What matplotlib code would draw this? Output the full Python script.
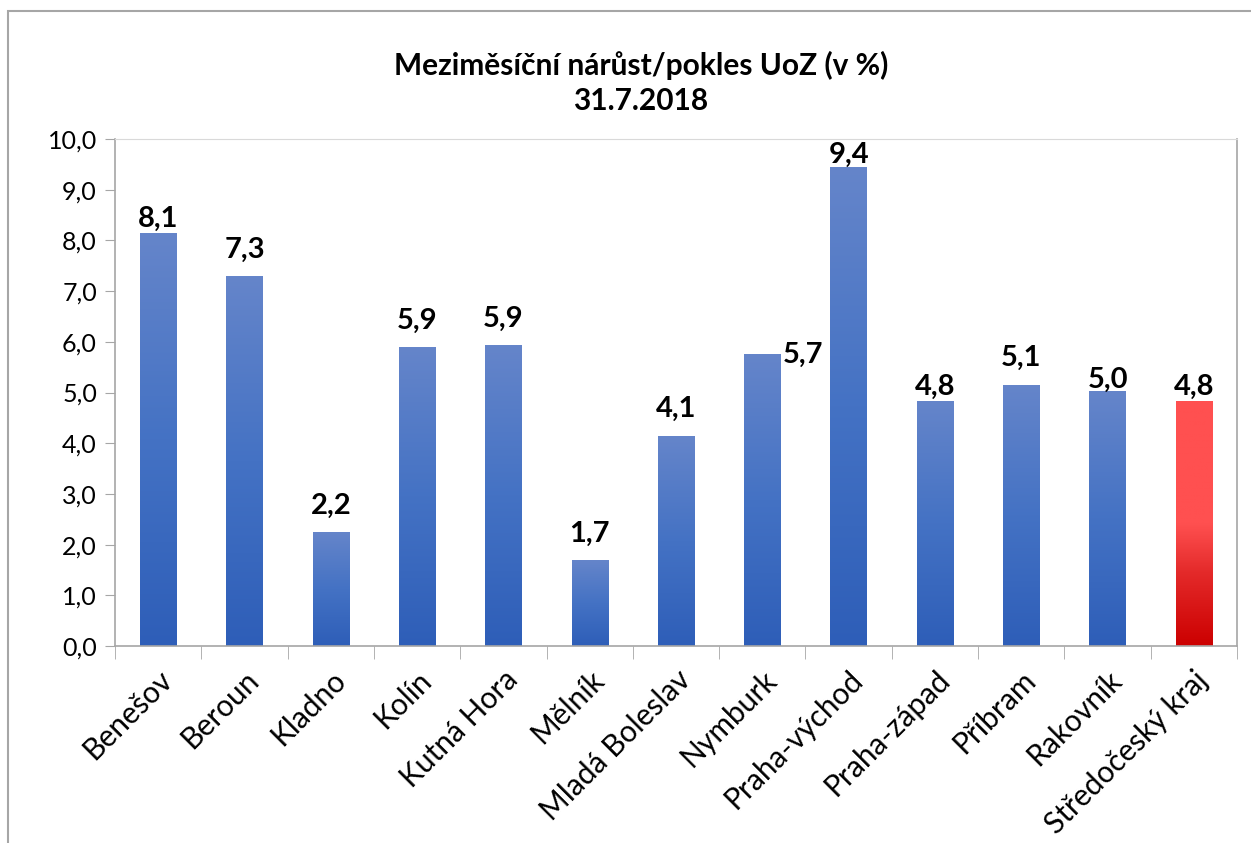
import numpy as np
import matplotlib
matplotlib.use("Agg")
import matplotlib.pyplot as plt
from matplotlib.colors import LinearSegmentedColormap
from matplotlib.patches import Rectangle

plt.rcParams['font.family'] = ['Lato', 'DejaVu Sans']

districts = ["Benešov", "Beroun", "Kladno", "Kolín", "Kutná Hora", "Mělník",
             "Mladá Boleslav", "Nymburk", "Praha-východ", "Praha-západ",
             "Příbram", "Rakovník", "Středočeský kraj"]
change_pct = [8.13, 7.28, 2.23, 5.88, 5.92, 1.68, 4.14, 5.74, 9.43, 4.83,
              5.14, 5.01, 4.83]
title = "Meziměsíční nárůst/pokles UoZ (v %)"
subtitle = "31.7.2018"

# gap between bar top and label baseline (points); labels were hand-placed in the original
label_gap = [5, 14, 14, 14, 14, 14, 14, 0, 3.5, 4.5, 14, 3.2, 4.5]

blue_grad = LinearSegmentedColormap.from_list("blue", ["#2E5EB8", "#4472C4", "#6585CA"])
red_grad = LinearSegmentedColormap.from_list(
    "red", [(0.0, "#CC0000"), (0.3, "#E42A2A"), (0.5, "#FF5050"), (1.0, "#FF5050")])

W, H = 1251, 843
fig = plt.figure(figsize=(W / 100, H / 100), dpi=100)
ax = fig.add_axes([115 / W, 1 - 646 / H, (1237 - 115) / W, (646 - 139) / H])

x = np.arange(len(districts))
bars = ax.bar(x, change_pct, width=0.42, color="none", zorder=2)
grad = np.linspace(0, 1, 256).reshape(-1, 1)
for i, b in enumerate(bars):
    cmap = red_grad if i == len(districts) - 1 else blue_grad
    ax.imshow(grad, cmap=cmap, origin="lower", aspect="auto", zorder=2,
              extent=(b.get_x(), b.get_x() + b.get_width(), 0, b.get_height()))

# data labels
for i, v in enumerate(change_pct):
    txt = f"{v:.1f}".replace(".", ",")
    if districts[i] == "Nymburk":
        ax.annotate(txt, (x[i] + 0.21, v), xytext=(2, 0), textcoords="offset points",
                    ha="left", va="center", fontsize=21, fontweight="bold")
    else:
        ax.annotate(txt, (x[i], v), xytext=(0, label_gap[i]), textcoords="offset points",
                    ha="center", va="baseline", fontsize=21, fontweight="bold")

ax.set_xlim(-0.5, len(districts) - 0.5)
ax.set_ylim(0, 10)
ax.set_yticks(np.arange(0, 11, 1))
ax.set_yticklabels([f"{t:.1f}".replace(".", ",") for t in np.arange(0, 11, 1)], fontsize=18)
ax.tick_params(axis="y", length=7, color="#A6A6A6", pad=6)

ax.set_xticks(x)
ax.set_xticklabels(districts, rotation=45, ha="right", rotation_mode="anchor", fontsize=21.5)
ax.tick_params(axis="x", which="major", length=0, pad=14)
ax.set_xticks(np.arange(-0.5, len(districts), 1), minor=True)
ax.tick_params(axis="x", which="minor", length=9, color="#A6A6A6")

for s in ["left", "bottom", "right"]:
    ax.spines[s].set_color("#A6A6A6")
    ax.spines[s].set_linewidth(1.2)
ax.spines["top"].set_color("#D9D9D9")

fig.text(641 / W, 1 - 65 / H, title, ha="center", va="center", fontsize=21.5, fontweight="bold")
fig.text(641 / W, 1 - 101 / H, subtitle, ha="center", va="center", fontsize=21.5, fontweight="bold")

# chart frame
fig.patches.append(Rectangle((8 / W, -0.1), 1.2, 1.1 - 11 / H, transform=fig.transFigure,
                             fill=False, edgecolor="#A6A6A6", linewidth=1.5))

fig.savefig("out.png", dpi=100)
